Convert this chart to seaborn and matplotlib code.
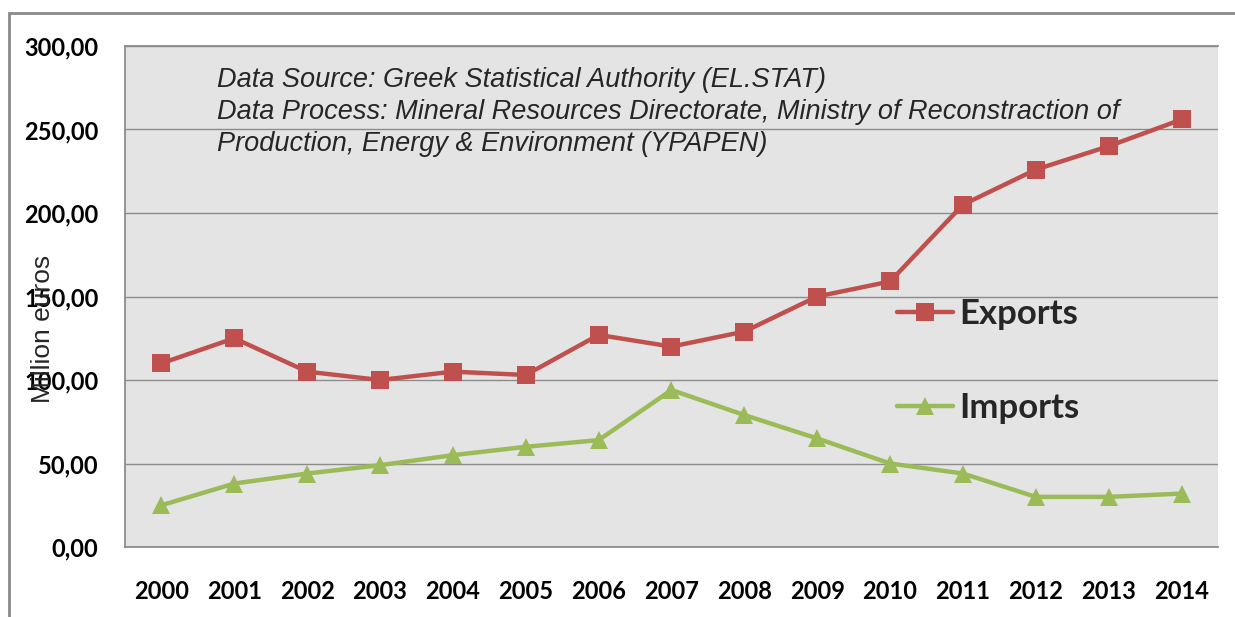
import matplotlib
matplotlib.use("Agg")
import matplotlib.pyplot as plt
from matplotlib.patches import Rectangle
from matplotlib.ticker import FuncFormatter
import seaborn as sns
import pandas as pd

# Annual trade values, million euros
years = [2000, 2001, 2002, 2003, 2004, 2005, 2006, 2007,
         2008, 2009, 2010, 2011, 2012, 2013, 2014]
exports = [110, 125, 105, 100, 105, 103, 127, 120,
           129, 150, 159, 205, 226, 240, 256]
imports = [25, 38, 44, 49, 55, 60, 64, 94,
           79, 65, 50, 44, 30, 30, 32]
series_names = ["Exports", "Imports"]
y_ticks = [0, 50, 100, 150, 200, 250, 300]
source_note = ("Data Source: Greek Statistical Authority (EL.STAT)\n"
               "Data Process: Mineral Resources Directorate, Ministry of Reconstraction of\n"
               "Production, Energy & Environment (YPAPEN)")

df = pd.DataFrame({
    "Year": years * 2,
    "Value": exports + imports,
    "Series": [series_names[0]] * len(years) + [series_names[1]] * len(years),
})

sns.set_theme(style="white")
plt.rcParams["font.family"] = ["Lato", "DejaVu Sans"]

fig = plt.figure(figsize=(12.35, 6.17), dpi=100)
fig.patch.set_facecolor("white")
ax = fig.add_axes([125 / 1235, 1 - 547 / 617, 1093 / 1235, 501 / 617])
ax.set_facecolor("#e4e4e4")

palette = {"Exports": "#c0504d", "Imports": "#9bbb59"}
markers = {"Exports": "s", "Imports": "^"}
sns.lineplot(data=df, x="Year", y="Value", hue="Series", style="Series",
             palette=palette, markers=markers, dashes=False, linewidth=3.2,
             markersize=13, markeredgewidth=0, ax=ax, legend=True, zorder=3)

ax.set_xlim(1999.5, 2014.5)
ax.set_ylim(0, 300)
ax.set_xticks(years)
ax.set_xticklabels([str(y) for y in years])
ax.set_yticks(y_ticks)
ax.yaxis.set_major_formatter(FuncFormatter(lambda v, p: f"{v:.2f}".replace(".", ",")))
ax.tick_params(axis="both", length=0, labelsize=17, colors="black")
ax.tick_params(axis="x", pad=24)
ax.tick_params(axis="y", pad=19)
for lab in ax.get_xticklabels() + ax.get_yticklabels():
    lab.set_fontweight("bold")

ax.grid(axis="y", color="#8c8c8c", linewidth=1.0)
ax.set_axisbelow(True)
for side in ["top", "bottom", "left"]:
    ax.spines[side].set_color("#8c8c8c")
    ax.spines[side].set_linewidth(1.3)
ax.spines["right"].set_visible(False)

ax.set_xlabel("")
ax.set_ylabel("")
fig.text(43 / 1235, 1 - 329 / 617, "Million euros", rotation=90,
         ha="center", va="center", fontsize=19,
         family=["Liberation Sans", "DejaVu Sans"])

fig.text(217 / 1235, 1 - 67 / 617, source_note, ha="left", va="top",
         fontsize=19.5, style="italic", linespacing=1.3,
         family=["Liberation Sans", "DejaVu Sans"])

handles, labels = ax.get_legend_handles_labels()
leg = ax.legend(handles, labels, loc="center left",
                bbox_to_anchor=((897 - 125) / 1093, (547 - 361) / 501),
                frameon=False, borderpad=0, borderaxespad=0,
                handlelength=1.6, handletextpad=0.18,
                labelspacing=1.8, prop={"family": "Lato", "weight": "bold", "size": 25})

# Outer chart frame
fig.add_artist(Rectangle((9 / 1235, -0.2), 1.2, 1.2 - 13 / 617,
                         transform=fig.transFigure, fill=False,
                         edgecolor="#8a8a8a", linewidth=2, clip_on=False))

fig.savefig("out.png", dpi=100, facecolor="white")
